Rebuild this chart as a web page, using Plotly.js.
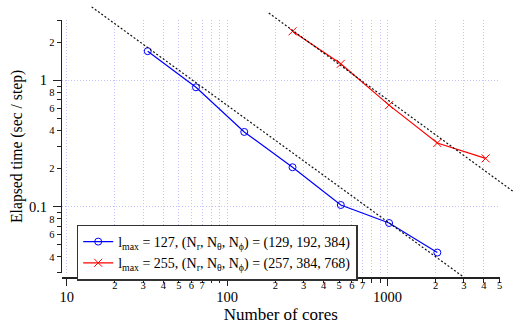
<!DOCTYPE html>
<html>
<head>
<meta charset="utf-8">
<script src="https://cdn.plot.ly/plotly-3.0.1.min.js"></script>
<style>html,body{margin:0;padding:0;background:#fff;}#chart{width:514px;height:324px;}</style>
</head>
<body>
<div id="chart"></div>
<script>
// ---- data ----
var coresA = [32, 64, 128, 256, 512, 1024, 2048];
var timeA  = [1.70, 0.88, 0.390, 0.205, 0.103, 0.0742, 0.0433];
var coresB = [256, 512, 1024, 2048, 4096];
var timeB  = [2.44, 1.35, 0.636, 0.319, 0.241];
var nameA = 'l<sub>max</sub> = 127, (N<sub>r</sub>, N<sub>θ</sub>, N<sub>ϕ</sub>) = (129, 192, 384)';
var nameB = 'l<sub>max</sub> = 255, (N<sub>r</sub>, N<sub>θ</sub>, N<sub>ϕ</sub>) = (257, 384, 768)';
// reference scaling lines (end points)
var refAx = [14.3, 3011];
var refAy = [3.81, 0.0275];
var refBx = [182, 6180];
var refBy = [3.41, 0.130];
// ticks
var xMinorTicks  = [20,30,40,50,60,70,80,90, 200,300,400,500,600,700,800,900, 2000,3000,4000,5000];
var xMinorLabels = ['2','3','4','5','6','7','','', '2','3','4','5','6','7','','', '2','3','4','5'];
var xMajorTicks  = [10, 100, 1000];
var xMajorLabels = ['10', '100', '1000'];
var yMinorTicks  = [0.03,0.04,0.05,0.06,0.07,0.08,0.09, 0.2,0.3,0.4,0.5,0.6,0.7,0.8,0.9, 2,3];
var yMinorLabels = ['','4','','6','','8','', '2','','4','','6','','8','', '2',''];
var yMajorTicks  = [0.1, 1];
var yMajorLabels = ['0.1', '1'];

// ---- geometry ----
var W = 514, H = 324, ML = 62, MB = 47, MT = 0, MR = 0;
var PW = W - ML - MR, PH = H - MT - MB;
var xr0 = 1 - 4.7/160, xr1 = Math.log10(5000);
var xd1 = 437.5 / PW;
var pxDecX = xd1 * PW / (xr1 - xr0);
var yr0 = Math.log10(0.03), yr1 = Math.log10(3);
var yd0 = (PH - 272.7) / PH, yd1 = (PH - 20) / PH;
var pxDecY = (yd1 - yd0) * PH / (yr1 - yr0);
var x2r = [xr0, xr0 + PW / pxDecX];
var y2r = [yr0 - yd0 * PH / pxDecY, yr0 + (1 - yd0) * PH / pxDecY];

var FONT = '"Liberation Serif", "Times New Roman", Times, serif';
var AX = '#222';
var GRID = '#c4c4ff';

function blanks(a) { return a.map(function () { return null; }); }

var traces = [
  {x: coresA, y: timeA, name: nameA, type: 'scatter', mode: 'lines+markers', xaxis: 'x', yaxis: 'y',
   line: {color: '#0000ff', width: 1.2},
   marker: {symbol: 'circle-open', size: 7, color: '#0000ff', line: {width: 1, color: '#0000ff'}}},
  {x: coresB, y: timeB, name: nameB, type: 'scatter', mode: 'lines+markers', xaxis: 'x', yaxis: 'y',
   line: {color: '#ff0000', width: 1.2},
   marker: {symbol: 'x-thin-open', size: 8, color: '#ff0000', line: {width: 1, color: '#ff0000'}}},
  {x: refAx, y: refAy, type: 'scatter', mode: 'lines', xaxis: 'x2', yaxis: 'y2', showlegend: false,
   hoverinfo: 'skip', line: {color: '#111', width: 1.2, dash: '2px,2px'}},
  {x: refBx, y: refBy, type: 'scatter', mode: 'lines', xaxis: 'x2', yaxis: 'y2', showlegend: false,
   hoverinfo: 'skip', line: {color: '#111', width: 1.2, dash: '2px,2px'}},
  // placeholders so that the decade-tick axes get their subplots (no visible marks)
  {x: xMajorTicks, y: blanks(xMajorTicks), type: 'scatter', mode: 'lines', xaxis: 'x3', yaxis: 'y',
   showlegend: false, hoverinfo: 'skip'},
  {x: blanks(yMajorTicks), y: yMajorTicks, type: 'scatter', mode: 'lines', xaxis: 'x', yaxis: 'y3',
   showlegend: false, hoverinfo: 'skip'}
];

var layout = {
  width: W, height: H,
  margin: {l: ML, r: MR, t: MT, b: MB, pad: 0},
  paper_bgcolor: '#fff', plot_bgcolor: 'rgba(0,0,0,0)',
  font: {family: FONT, color: '#000'},
  showlegend: true,
  legend: {x: (76.7 - ML) / PW, y: (PH - 224.5) / PH, xanchor: 'left', yanchor: 'top',
           bgcolor: '#fff', bordercolor: '#333', borderwidth: 1.5,
           font: {family: FONT, size: 14, color: '#000'}, tracegroupgap: 0, itemwidth: 30},
  xaxis: {type: 'log', domain: [0, xd1], range: [xr0, xr1], anchor: 'free', position: 0,
          showline: true, linecolor: AX, linewidth: 1.5, zeroline: false,
          ticks: 'outside', ticklen: 4, tickwidth: 1, tickcolor: AX,
          tickmode: 'array', tickvals: xMinorTicks, ticktext: xMinorLabels,
          tickfont: {family: FONT, size: 10.5}, ticklabelstandoff: -6,
          showgrid: true, gridcolor: GRID, griddash: '1px,2px', gridwidth: 1,
          title: {text: 'Number of cores', font: {family: FONT, size: 17}, standoff: 36},
          automargin: false},
  xaxis3: {type: 'log', overlaying: 'x', range: [xr0, xr1], anchor: 'free', position: 0,
          showline: false, zeroline: false,
          ticks: 'outside', ticklen: 8, tickwidth: 1, tickcolor: AX,
          tickmode: 'array', tickvals: xMajorTicks, ticktext: xMajorLabels,
          tickfont: {family: FONT, size: 14.5}, ticklabelstandoff: -1,
          showgrid: true, gridcolor: GRID, griddash: '1px,2px', gridwidth: 1, automargin: false},
  yaxis: {type: 'log', domain: [yd0, yd1], range: [yr0, yr1], anchor: 'x',
          showline: true, linecolor: AX, linewidth: 1.5, zeroline: false,
          ticks: 'outside', ticklen: 4, tickwidth: 1, tickcolor: AX,
          tickmode: 'array', tickvals: yMinorTicks, ticktext: yMinorLabels,
          tickfont: {family: FONT, size: 10.5}, ticklabelstandoff: 0,
          showgrid: false,
          title: {text: 'Elapsed time (sec / step)', font: {family: FONT, size: 15.7}, standoff: 22},
          automargin: false},
  yaxis3: {type: 'log', overlaying: 'y', range: [yr0, yr1], anchor: 'x', side: 'left',
          showline: false, zeroline: false,
          ticks: 'outside', ticklen: 8, tickwidth: 1, tickcolor: AX,
          tickmode: 'array', tickvals: yMajorTicks, ticktext: yMajorLabels,
          tickfont: {family: FONT, size: 14.5}, ticklabelstandoff: 3,
          showgrid: true, gridcolor: GRID, griddash: '1px,2px', gridwidth: 1, automargin: false},
  xaxis2: {type: 'log', domain: [0, 1], range: x2r, anchor: 'y2', visible: false, showgrid: false, zeroline: false},
  yaxis2: {type: 'log', domain: [0, 1], range: y2r, anchor: 'x2', visible: false, showgrid: false, zeroline: false}
};

Plotly.newPlot('chart', traces, layout, {staticPlot: true, displayModeBar: false});
</script>
</body>
</html>
